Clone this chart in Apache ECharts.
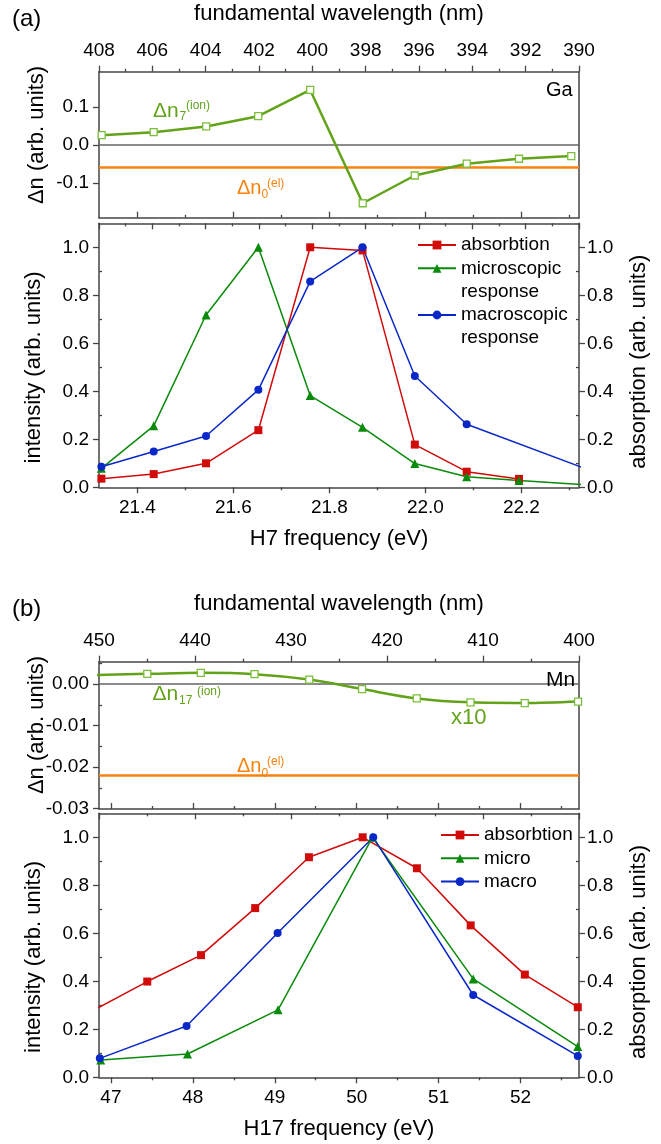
<!DOCTYPE html>
<html><head><meta charset="utf-8">
<script src="https://cdn.jsdelivr.net/npm/echarts@6/dist/echarts.min.js"></script>
<style>html,body{margin:0;padding:0;background:#fff}#c{width:661px;height:1144px}</style>
</head><body><div id="c"></div>
<script>
// ---------- Panel (a): Ga, H7 ----------
const wlA = [407.9, 405.95, 403.98, 402.03, 400.08, 398.11, 396.16, 394.21, 392.25, 390.29];
const dnIonA = [0.026, 0.034, 0.049, 0.076, 0.145, -0.153, -0.080, -0.049, -0.036, -0.029];
const dnElA = -0.058;
const eAbsA = [21.325, 21.434, 21.543, 21.652, 21.760, 21.869, 21.978, 22.086, 22.195];
const absA = [0.036, 0.055, 0.100, 0.238, 1.000, 0.987, 0.178, 0.065, 0.035];
const eMicA = [21.325, 21.434, 21.543, 21.652, 21.760, 21.869, 21.978, 22.086, 22.195, 22.41];
const micA = [0.079, 0.256, 0.718, 1.000, 0.382, 0.250, 0.099, 0.044, 0.028, 0.000];
const eMacA = [21.325, 21.434, 21.543, 21.652, 21.760, 21.869, 21.978, 22.086, 22.41];
const macA = [0.086, 0.149, 0.214, 0.406, 0.858, 1.000, 0.464, 0.263, 0.020];
// ---------- Panel (b): Mn, H17 ----------
const wlB = [450.6, 444.97, 439.4, 433.8, 428.1, 422.6, 416.9, 411.3, 405.65, 400.1];
const dnIonB = [0.0022, 0.00247, 0.00271, 0.0024, 0.0011, -0.0012, -0.00345, -0.0044, -0.00456, -0.0042];
const dnElB = -0.022;
const eAbsB = [46.79, 47.444, 48.100, 48.761, 49.417, 50.073, 50.735, 51.391, 52.052, 52.698];
const absB = [0.280, 0.399, 0.509, 0.705, 0.917, 1.000, 0.871, 0.633, 0.428, 0.292];
const eMicB = [46.876, 47.935, 49.040, 50.192, 51.422, 52.698];
const micB = [0.072, 0.097, 0.281, 1.000, 0.410, 0.128];
const eMacB = [46.865, 47.924, 49.035, 50.202, 51.422, 52.698];
const macB = [0.079, 0.214, 0.601, 1.000, 0.343, 0.089];
// ---------- tick labels ----------
const wlTicksA = [408, 406, 404, 402, 400, 398, 396, 394, 392, 390];
const wlMinorA = [407, 405, 403, 401, 399, 397, 395, 393, 391];
const eTicksA = [21.4, 21.6, 21.8, 22.0, 22.2];
const eMinorA = [21.5, 21.7, 21.9, 22.1, 22.3];
const dnTicksA = [-0.1, 0, 0.1];
const intTicks = [0, 0.2, 0.4, 0.6, 0.8, 1.0];
const intMinor = [0.1, 0.3, 0.5, 0.7, 0.9];
const wlTicksB = [450, 440, 430, 420, 410, 400];
const wlMinorB = [445, 435, 425, 415, 405];
const eTicksB = [47, 48, 49, 50, 51, 52];
const eMinorB = [47.5, 48.5, 49.5, 50.5, 51.5, 52.5];
const dnTicksB = [0, -0.01, -0.02, -0.03];
const dnMinorB = [0.005, -0.005, -0.015, -0.025];

const FONT = '"Liberation Sans", Arial, Helvetica, sans-serif';
const AX = '#454545';
const RED = '#d10a0a', GRN = '#0a8a0a', BLU = '#0a28c8';
const DNG = '#62a31a', DNM = '#7cbf3a', ORG = '#f8820c';

const RA = {wl:[390,408], e:[21.32,22.32], dn:[-0.191,0.193], it:[0,1.1]};
const RB = {wl:[400,450], e:[46.855,52.713], dn:[-0.0301,0.0054], it:[0,1.1]};

const chart = echarts.init(document.getElementById('c'), null, {renderer:'canvas'});

function axis(o) {
  return {
    type: 'value', gridIndex: o.g, position: o.pos, min: o.r[0], max: o.r[1],
    inverse: !!o.inv, splitLine: {show:false}, minorTick:{show:false}, minorSplitLine:{show:false},
    axisLine: {show: o.line !== false, onZero: false, lineStyle: {color: AX, width: 1.5}},
    axisTick: o.ticks ? {show:true, inside: !!o.inside, length: o.len || 6, customValues: o.ticks, lineStyle:{color:AX, width:1.3}} : {show:false},
    axisLabel: o.labels ? {show:true, customValues: o.labels, margin: o.margin || 9, fontSize: 19, fontFamily: FONT, color:'#000', formatter: o.fmt} : {show:false}
  };
}
const f1 = v => v.toFixed(1), f0 = v => v.toFixed(0), f2 = v => v.toFixed(2);

const grids = [];
const GA = [
  {left:99, top:71.7, width:480, height:146},
  {left:99, top:223.3, width:480, height:264},
  {left:99, top:661.7, width:480, height:147.3},
  {left:99, top:813.3, width:480, height:264}
];
for (let k=0;k<2;k++) GA.forEach(g => grids.push(Object.assign({containLabel:false}, g)));

const xAxis = [
  axis({g:0,pos:'top',r:RA.wl,inv:true,ticks:wlTicksA,labels:wlTicksA,fmt:f0,margin:11}),
  axis({g:0,pos:'bottom',r:RA.e,ticks:eTicksA,inside:true}),
  axis({g:1,pos:'bottom',r:RA.e,ticks:eTicksA,labels:eTicksA,fmt:f1,margin:11}),
  axis({g:1,pos:'top',r:RA.wl,inv:true,ticks:wlTicksA,inside:true}),
  axis({g:2,pos:'top',r:RB.wl,inv:true,ticks:wlTicksB,labels:wlTicksB,fmt:f0,margin:11}),
  axis({g:2,pos:'bottom',r:RB.e,ticks:eTicksB,inside:true}),
  axis({g:3,pos:'bottom',r:RB.e,ticks:eTicksB,labels:eTicksB,fmt:f0,margin:11}),
  axis({g:3,pos:'top',r:RB.wl,inv:true,ticks:wlTicksB,inside:true}),
  // overlay minor ticks
  axis({g:4,pos:'top',r:RA.wl,inv:true,ticks:wlMinorA,len:3,line:false}),
  axis({g:4,pos:'bottom',r:RA.e,ticks:eMinorA,len:3,inside:true,line:false}),
  axis({g:5,pos:'bottom',r:RA.e,ticks:eMinorA,len:3,line:false}),
  axis({g:5,pos:'top',r:RA.wl,inv:true,ticks:wlMinorA,len:3,inside:true,line:false}),
  axis({g:6,pos:'top',r:RB.wl,inv:true,ticks:wlMinorB,len:3,line:false}),
  axis({g:6,pos:'bottom',r:RB.e,ticks:eMinorB,len:3,inside:true,line:false}),
  axis({g:7,pos:'bottom',r:RB.e,ticks:eMinorB,len:3,line:false}),
  axis({g:7,pos:'top',r:RB.wl,inv:true,ticks:wlMinorB,len:3,inside:true,line:false})
];
const yAxis = [
  axis({g:0,pos:'left',r:RA.dn,ticks:dnTicksA,labels:dnTicksA,fmt:f1,margin:10}),
  axis({g:0,pos:'right',r:RA.dn}),
  axis({g:1,pos:'left',r:RA.it,ticks:intTicks,labels:intTicks,fmt:f1,margin:10}),
  axis({g:1,pos:'right',r:RA.it,ticks:intTicks,labels:intTicks,fmt:f1,margin:8}),
  axis({g:2,pos:'left',r:RB.dn,ticks:dnTicksB,labels:dnTicksB,fmt:f2,margin:10}),
  axis({g:2,pos:'right',r:RB.dn}),
  axis({g:3,pos:'left',r:RB.it,ticks:intTicks,labels:intTicks,fmt:f1,margin:10}),
  axis({g:3,pos:'right',r:RB.it,ticks:intTicks,labels:intTicks,fmt:f1,margin:8}),
  // overlay
  axis({g:4,pos:'left',r:RA.dn,line:false}),
  axis({g:5,pos:'left',r:RA.it,ticks:intMinor,len:3,inside:true,line:false}),
  axis({g:5,pos:'right',r:RA.it,ticks:intMinor,len:3,inside:true,line:false}),
  axis({g:6,pos:'left',r:RB.dn,ticks:dnMinorB,len:3,inside:true,line:false}),
  axis({g:7,pos:'left',r:RB.it,ticks:intMinor,len:3,inside:true,line:false}),
  axis({g:7,pos:'right',r:RB.it,ticks:intMinor,len:3,inside:true,line:false})
];

const zip = (xs, ys) => xs.map((x,i)=>[x, ys[i]]);
function dnSeries(name, xs, ys, xi, yi, el, smooth) {
  return {
    name, type:'line', xAxisIndex:xi, yAxisIndex:yi, data: zip(xs, ys), smooth: smooth,
    symbol:'rect', symbolSize:7, z:3,
    itemStyle:{color:'#fff', borderColor:DNM, borderWidth:1.3},
    lineStyle:{color:DNG, width:2.5},
    markLine:{silent:true, precision:5, symbol:['none','none'], label:{show:false}, animation:false, z:2,
      data:[{yAxis:0, lineStyle:{color:'#666', width:1.5, type:'solid'}},
            {yAxis:el, lineStyle:{color:ORG, width:2.6, type:'solid'}}]}
  };
}
function ser(name, xs, ys, xi, yi, color, symbol, size) {
  return {name, type:'line', xAxisIndex:xi, yAxisIndex:yi, data: zip(xs, ys),
    symbol, symbolSize:size, itemStyle:{color}, lineStyle:{color, width:1.5}, z:4};
}

const series = [
  dnSeries('dnA', wlA, dnIonA, 0, 0, dnElA, false),
  ser('absorbtion', eAbsA, absA, 2, 3, RED, 'rect', 8),
  ser('microscopic', eMicA, micA, 2, 2, GRN, 'triangle', 9),
  ser('macroscopic', eMacA, macA, 2, 2, BLU, 'circle', 8),
  dnSeries('dnB', wlB, dnIonB, 4, 4, dnElB, 0.35),
  ser('absorbtion', eAbsB, absB, 6, 7, RED, 'rect', 8),
  ser('micro', eMicB, micB, 6, 6, GRN, 'triangle', 9),
  ser('macro', eMacB, macB, 6, 6, BLU, 'circle', 8)
];

const legTxt = {fontSize:19, fontFamily:FONT, color:'#000', lineHeight:20};
function leg(data, left, top) {
  return {data, orient:'vertical', left, top, itemWidth:38, itemHeight:11, itemGap:3.3,
    padding:0, textStyle:legTxt, selectedMode:false, inactiveColor:'#000'};
}
const legend = [
  leg(['absorbtion','microscopic'], 417, 235),
  leg(['macroscopic'], 417, 305),
  leg(['absorbtion','micro','macro'], 440, 825)
];

function T(text, x, y, size, color, extra) {
  const e = {type:'text', x, y, silent:true, z:100,
    style:{text, fontSize:size, fontFamily:FONT, fill:color||'#000', align:'left', verticalAlign:'middle'}};
  if (extra) { if (extra.align) e.style.align = extra.align; if (extra.rot) e.rotation = extra.rot; }
  return e;
}
const R90 = Math.PI/2;
const graphic = [
  T('(a)', 12, 19, 24),
  T('fundamental wavelength (nm)', 339, 14, 22, '#000', {align:'center'}),
  T('H7 frequency (eV)', 339, 539, 22, '#000', {align:'center'}),
  T('\u0394n (arb. units)', 37, 135, 22, '#000', {align:'center', rot:R90}),
  T('intensity (arb. units)', 34, 367.5, 22, '#000', {align:'center', rot:R90}),
  T('absorption (arb. units)', 639, 361.7, 22, '#000', {align:'center', rot:R90}),
  T('Ga', 546, 90, 20),
  T('\u0394n', 153, 110.8, 21, DNG), T('7', 179.5, 116.7, 12, DNG), T('(ion)', 186, 106, 12, DNG),
  T('\u0394n', 237, 188.3, 20, ORG), T('0', 261.5, 195, 12, ORG), T('(el)', 267, 183.3, 12, ORG),
  T('response', 461, 292, 19), T('response', 461, 338, 19),
  T('(b)', 12, 609, 24),
  T('fundamental wavelength (nm)', 339, 604, 22, '#000', {align:'center'}),
  T('H17 frequency (eV)', 339, 1129, 22, '#000', {align:'center'}),
  T('\u0394n (arb. units)', 37, 725, 22, '#000', {align:'center', rot:R90}),
  T('intensity (arb. units)', 34, 957, 22, '#000', {align:'center', rot:R90}),
  T('absorption (arb. units)', 639, 952, 22, '#000', {align:'center', rot:R90}),
  T('Mn', 546, 680, 21),
  T('x10', 451, 717.5, 22, DNG),
  T('\u0394n', 152.4, 694.2, 21, DNG), T('17', 179, 701, 12, DNG), T('(ion)', 197, 691.3, 12, DNG),
  T('\u0394n', 237, 766.7, 20, ORG), T('0', 261.5, 773.3, 12, ORG), T('(el)', 267, 761.7, 12, ORG)
];

chart.setOption({animation:false, backgroundColor:'#fff', grid:grids, xAxis, yAxis, series, legend, graphic});
</script></body></html>
